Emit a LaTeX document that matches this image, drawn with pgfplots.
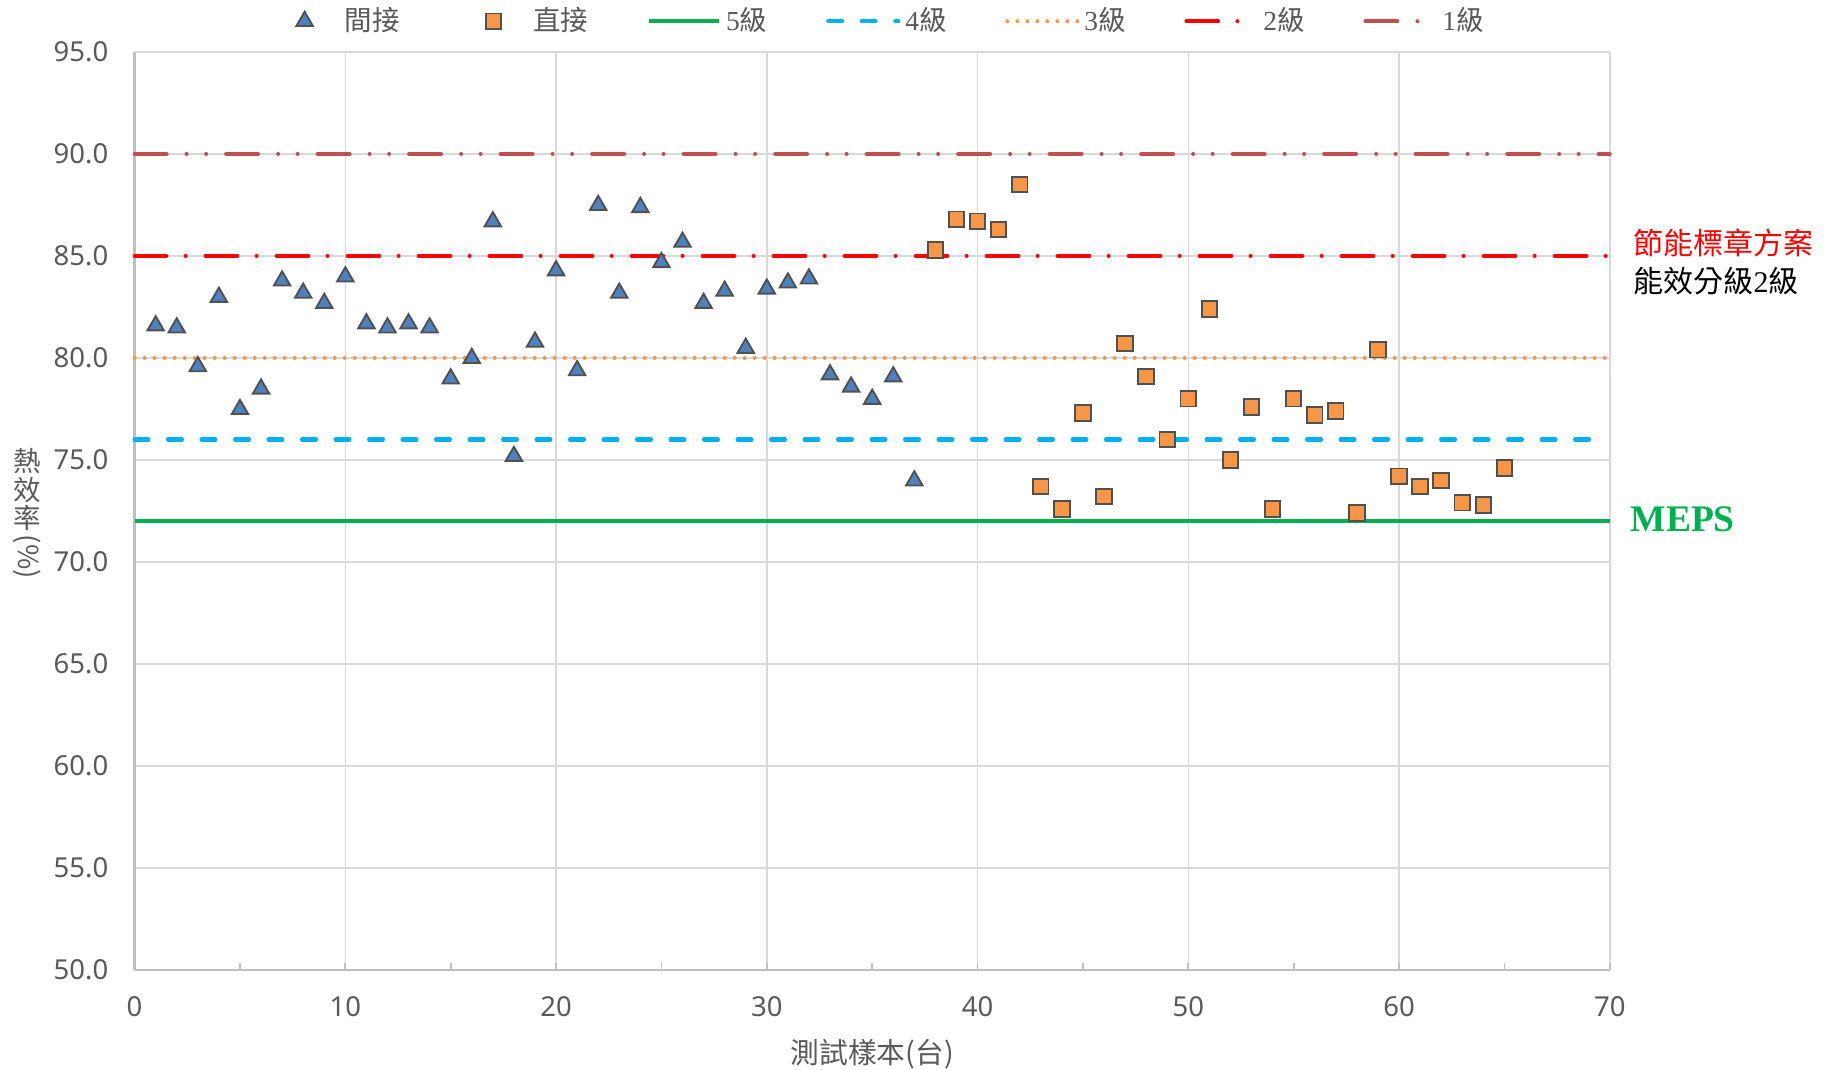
\documentclass[border=0pt]{standalone}
\usepackage{fontspec}
\setmainfont{Liberation Serif}
\newfontfamily\cjk{Noto Sans CJK TC}
\newfontfamily\tickfont{Noto Sans}
\usepackage{graphicx}
\usepackage{pgfplots}
\usepackage{pgfplotstable}
\pgfplotsset{compat=1.18}
\definecolor{tri}{HTML}{4F81BD}
\definecolor{sq}{HTML}{F79646}
\definecolor{mk}{HTML}{505050}
\definecolor{gridc}{HTML}{D9D9D9}
\definecolor{axisc}{HTML}{BFBFBF}
\definecolor{tickc}{HTML}{595959}
\definecolor{g5}{HTML}{00B050}
\definecolor{b4}{HTML}{00B0F0}
\definecolor{o3}{HTML}{F79646}
\definecolor{r2}{HTML}{FF0000}
\definecolor{c1}{HTML}{C0504D}
\pgfplotsset{
  marklegend/.style={legend image code/.code={\path[draw=none,fill=none] (0pt,0pt) -- (28pt,0pt); \draw[##1] plot coordinates {(14pt,0pt)};}},
  linelegend/.style={legend image code/.code={\draw[##1] (0pt,0pt) -- (28pt,0pt);}},
}

\pgfplotstableread{
x y
1 81.7
2 81.6
3 79.7
4 83.1
5 77.6
6 78.6
7 83.9
8 83.3
9 82.8
10 84.1
11 81.8
12 81.6
13 81.8
14 81.6
15 79.1
16 80.1
17 86.8
18 75.3
19 80.9
20 84.4
21 79.5
22 87.6
23 83.3
24 87.5
25 84.8
26 85.8
27 82.8
28 83.4
29 80.6
30 83.5
31 83.8
32 84.0
33 79.3
34 78.7
35 78.1
36 79.2
37 74.1
}\indirect

\pgfplotstableread{
x y
38 85.3
39 86.8
40 86.7
41 86.3
42 88.5
43 73.7
44 72.6
45 77.3
46 73.2
47 80.7
48 79.1
49 76.0
50 78.0
51 82.4
52 75.0
53 77.6
54 72.6
55 78.0
56 77.2
57 77.4
58 72.4
59 80.4
60 74.2
61 73.7
62 74.0
63 72.9
64 72.8
65 74.6
}\direct

\begin{document}
\begin{tikzpicture}
\begin{axis}[
  scale only axis, width=590.04pt, height=367.2pt,
  xmin=0, xmax=70, ymin=50, ymax=95,
  xtick={0,10,...,70}, ytick={50,55,...,95},
  minor x tick num=1,
  grid=major, major grid style={draw=gridc, line width=0.6pt},
  axis x line*=bottom, axis y line*=left,
  axis line style={draw=axisc, line width=0.9pt},
  tick align=inside, major tick length=2.8pt, minor tick length=2.8pt,
  tick style={draw=axisc, line width=0.7pt},
  ytick style={draw=none},
  ticklabel style={font=\tickfont\fontsize{11}{13}\selectfont, text=tickc},
  /pgf/number format/assume math mode=true,
  yticklabel style={xshift=-7pt, /pgf/number format/.cd, fixed, fixed zerofill, precision=1},
  xticklabel style={yshift=-7pt},
  clip=false,
  legend columns=7,
  legend style={draw=none, fill=none, inner sep=0pt, at={(0.0912,1.0335)}, anchor=west,
    font=\fontsize{11}{13}\selectfont, text=tickc,
    nodes={inner ysep=1pt},
    /tikz/every even column/.append style={column sep=21.5pt}},
]
% legend in the reference order
\addlegendimage{only marks, mark=triangle*, mark size=3.8pt, mark options={fill=tri, draw=mk, line width=0.75pt}, marklegend}
\addlegendentry{\cjk 間接}
\addlegendimage{only marks, mark=square*, mark size=3.1pt, mark options={fill=sq, draw=mk, line width=0.75pt}, marklegend}
\addlegendentry{\cjk 直接}
\addlegendimage{g5, line width=1.6pt, linelegend}
\addlegendentry{5{\cjk 級}}
\addlegendimage{b4, line width=1.7pt, line cap=round, dash pattern=on 5.5pt off 7.9pt, linelegend}
\addlegendentry{4{\cjk 級}}
\addlegendimage{o3, line width=1.6pt, line cap=round, dash pattern=on 0pt off 4pt, linelegend}
\addlegendentry{3{\cjk 級}}
\addlegendimage{r2, line width=1.6pt, line cap=round, dash pattern=on 12.7pt off 7.7pt on 0pt off 8pt, linelegend}
\addlegendentry{2{\cjk 級}}
\addlegendimage{c1, line width=1.6pt, line cap=round, dash pattern=on 12.8pt off 8pt on 0pt off 7.8pt on 0pt off 8pt, linelegend}
\addlegendentry{1{\cjk 級}}

% threshold lines
\addplot[g5, line width=1.6pt, forget plot] coordinates {(0,72) (70,72)};
\addplot[b4, line width=1.7pt, line cap=round, dash pattern=on 5.5pt off 7.9pt, forget plot] coordinates {(0,76) (69.6,76)};
\addplot[o3, line width=1.6pt, line cap=round, dash pattern=on 0pt off 4pt, forget plot] coordinates {(0,80) (70,80)};
\addplot[r2, line width=1.6pt, line cap=round, dash pattern=on 12.7pt off 7.7pt on 0pt off 8pt, forget plot] coordinates {(0,85) (70,85)};
\addplot[c1, line width=1.6pt, line cap=round, dash pattern=on 12.8pt off 8pt on 0pt off 7.8pt on 0pt off 8pt, forget plot] coordinates {(0,90) (70,90)};

% data
\addplot[only marks, mark=triangle*, mark size=3.8pt, mark options={fill=tri, draw=mk, line width=0.75pt, yshift=-0.95pt}, forget plot] table {\indirect};
\addplot[only marks, mark=square*, mark size=3.1pt, mark options={fill=sq, draw=mk, line width=0.75pt}, forget plot] table {\direct};

% y label, written vertically
\node[text=tickc, font=\cjk\fontsize{11}{13}\selectfont, inner sep=0pt] at (rel axis cs:-0.0729,0.5542) {熱};
\node[text=tickc, font=\cjk\fontsize{11}{13}\selectfont, inner sep=0pt] at (rel axis cs:-0.0729,0.5229) {效};
\node[text=tickc, font=\cjk\fontsize{11}{13}\selectfont, inner sep=0pt] at (rel axis cs:-0.0729,0.4924) {率};
\node[text=tickc, font=\cjk\fontsize{11}{13}\selectfont, inner sep=0pt, rotate=-90] at (rel axis cs:-0.0729,0.4499) {(\%)};
% x label
\node[text=tickc, font=\cjk\fontsize{11.5}{13}\selectfont, inner sep=0pt] at (rel axis cs:0.5,-0.0915) {測試樣本(台)};
% annotations
\node[anchor=west, text=r2, font=\cjk\fontsize{12}{14}\selectfont, inner sep=0pt] at (rel axis cs:1.0158,0.792) {節能標章方案};
\node[anchor=west, font=\fontsize{12}{14}\selectfont, inner sep=0pt] at (rel axis cs:1.0158,0.7505) {{\cjk 能效分級}2{\cjk 級}};
\node[anchor=west, text=g5, font=\bfseries\fontsize{15}{17}\selectfont, inner sep=0pt] at (rel axis cs:1.0138,0.4913) {MEPS};
\path (rel axis cs:-0.09125,-0.1089) rectangle (rel axis cs:1.1466,1.0566);
\end{axis}
\end{tikzpicture}
\end{document}
